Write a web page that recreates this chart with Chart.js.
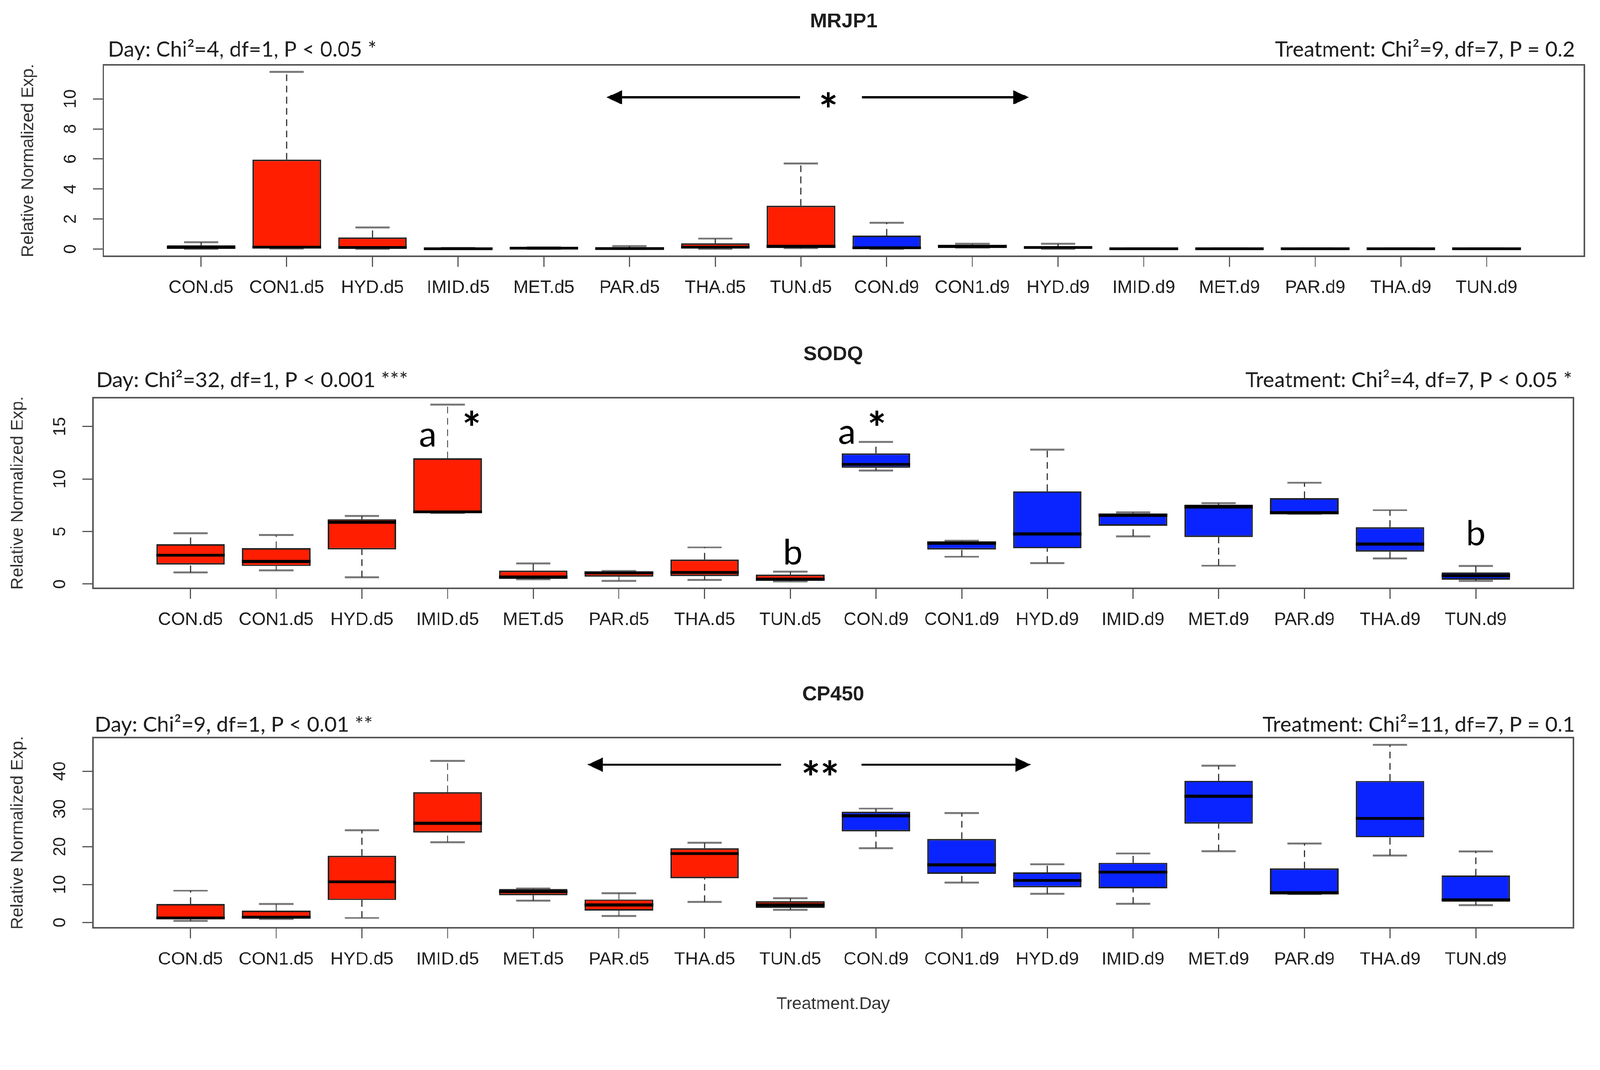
<!DOCTYPE html>
<html>
<head>
<meta charset="utf-8">
<script src="https://cdn.jsdelivr.net/npm/chart.js@4.4.1/dist/chart.umd.min.js"></script>
<style>
  html, body { margin: 0; padding: 0; background: #fff; overflow: hidden; }
  #page { width: 4273px; height: 2739px; position: relative; transform-origin: 0 0; }
  canvas { position: absolute; left: 0; }
</style>
</head>
<body>
<div id="page">
<canvas id="c1" width="4273" height="880" style="top:0px"></canvas>
<canvas id="c2" width="4273" height="900" style="top:880px"></canvas>
<canvas id="c3" width="4273" height="959" style="top:1780px"></canvas>
</div>
<script>
// groups on the x axis
var groups = ['CON.d5', 'CON1.d5', 'HYD.d5', 'IMID.d5', 'MET.d5', 'PAR.d5', 'THA.d5', 'TUN.d5',
              'CON.d9', 'CON1.d9', 'HYD.d9', 'IMID.d9', 'MET.d9', 'PAR.d9', 'THA.d9', 'TUN.d9'];

// MRJP1 box stats
var mrjp1Min = [0, 0.02, 0, 0, 0, 0, 0, 0.05, 0, 0.08, 0, 0, 0, 0, 0, 0];
var mrjp1Q1  = [0.02, 0.05, 0.02, 0, 0.02, 0, 0.03, 0.1, 0.02, 0.12, 0.02, 0, 0, 0, 0, 0];
var mrjp1Med = [0.1, 0.12, 0.1, 0.02, 0.06, 0.03, 0.12, 0.18, 0.08, 0.18, 0.1, 0.02, 0.02, 0.02, 0.02, 0.02];
var mrjp1Q3  = [0.25, 5.95, 0.78, 0.06, 0.1, 0.12, 0.38, 2.88, 0.9, 0.25, 0.2, 0.04, 0.04, 0.04, 0.04, 0.04];
var mrjp1Max = [0.45, 11.8, 1.44, 0.08, 0.12, 0.2, 0.7, 5.7, 1.74, 0.35, 0.35, 0.05, 0.05, 0.05, 0.05, 0.05];
var mrjp1Ticks = [0, 2, 4, 6, 8, 10];

// SODQ
var sodqMin = [1.12, 1.31, 0.64, 6.76, 0.46, 0.31, 0.4, 0.27, 10.81, 2.6, 2.0, 4.55, 1.75, 6.69, 2.43, 0.31];
var sodqQ1  = [1.87, 1.71, 3.29, 6.76, 0.5, 0.69, 0.75, 0.35, 11.06, 3.28, 3.39, 5.55, 4.49, 6.69, 3.08, 0.42];
var sodqMed = [2.74, 2.16, 5.88, 6.88, 0.66, 1.06, 1.1, 0.46, 11.39, 3.89, 4.78, 6.55, 7.34, 6.78, 3.81, 0.79];
var sodqQ3  = [3.8, 3.41, 6.18, 11.97, 1.29, 1.23, 2.33, 0.89, 12.45, 4.07, 8.84, 6.72, 7.55, 8.19, 5.43, 1.12];
var sodqMax = [4.84, 4.68, 6.49, 17.07, 1.98, 1.25, 3.49, 1.19, 13.53, 4.12, 12.79, 6.82, 7.69, 9.65, 7.03, 1.71];
var sodqTicks = [0, 5, 10, 15];

// CP450
var cp450Min = [0.42, 0.9, 1.2, 21.2, 5.74, 1.75, 5.4, 3.3, 19.6, 10.5, 7.55, 4.95, 18.85, 7.5, 17.65, 4.6];
var cp450Q1  = [0.8, 0.97, 5.9, 23.75, 7.2, 3.1, 11.7, 3.9, 24.05, 12.8, 9.3, 9.05, 26.1, 7.5, 22.5, 5.45];
var cp450Med = [1.2, 1.4, 10.75, 26.2, 8.15, 4.65, 18.2, 4.65, 28.2, 15.2, 11.1, 13.3, 33.35, 7.8, 27.5, 6.0];
var cp450Q3  = [4.9, 3.1, 17.6, 34.4, 8.9, 6.1, 19.6, 5.6, 29.25, 22.05, 13.2, 15.8, 37.45, 14.3, 37.4, 12.4];
var cp450Max = [8.4, 4.9, 24.35, 42.7, 9.0, 7.7, 21.1, 6.45, 30.1, 28.9, 15.35, 18.25, 41.4, 20.9, 46.95, 18.8];
var cp450Ticks = [0, 10, 20, 30, 40];

var RED = '#ff1e00', BLUE = '#0a24ff';
var TXT = '#1e1e1e', AXIS = '#555';

// fit the 4273 px layout into whatever viewport we actually get
var fit = window.innerWidth / 4273;
if (Math.abs(fit - 1) > 0.005) document.getElementById('page').style.transform = 'scale(' + fit + ')';

function boxChart(id, p) {
  var lo = Math.min.apply(null, p.min), hi = Math.max.apply(null, p.max);
  var ext = (hi - lo) * 0.04;   // R style axis extension
  var boxes = [], meds = [], upper = [], lower = [], caps = [];
  groups.forEach(function (g, i) {
    var x = i + 1;
    boxes.push({x: x, y: [p.q1[i], p.q3[i]]});
    meds.push({x: x - 0.4, y: p.med[i]}, {x: x + 0.4, y: p.med[i]}, {x: x, y: null});
    upper.push({x: x, y: p.q3[i]}, {x: x, y: p.max[i]}, {x: x, y: null});
    lower.push({x: x, y: p.min[i]}, {x: x, y: p.q1[i]}, {x: x, y: null});
    caps.push({x: x - 0.2, y: p.max[i]}, {x: x + 0.2, y: p.max[i]}, {x: x, y: null},
              {x: x - 0.2, y: p.min[i]}, {x: x + 0.2, y: p.min[i]}, {x: x, y: null});
  });
  var fills = groups.map(function (g) { return g.slice(-2) === 'd5' ? RED : BLUE; });

  var lineDs = function (data, color, width, dash) {
    return {type: 'line', data: data, borderColor: color, borderWidth: width, borderDash: dash || [],
            pointRadius: 0, spanGaps: false, fill: false, borderCapStyle: 'butt'};
  };

  var decor = {
    id: 'decor',
    afterDraw: function (chart) {
      var ctx = chart.ctx, a = chart.chartArea, xs = chart.scales.x, ys = chart.scales.y;
      ctx.save();
      ctx.strokeStyle = AXIS; ctx.lineWidth = 4;
      ctx.strokeRect(a.left, a.top, a.right - a.left, a.bottom - a.top);

      ctx.fillStyle = TXT;
      ctx.textAlign = 'center'; ctx.textBaseline = 'middle';
      // rotated y tick labels
      ctx.font = '46px "Liberation Sans"';
      p.ticks.forEach(function (v) {
        ctx.save();
        ctx.translate(a.left - 87, ys.getPixelForValue(v));
        ctx.rotate(-Math.PI / 2);
        ctx.fillText(String(v), 0, 0);
        ctx.restore();
      });
      // y title
      ctx.save();
      ctx.translate(a.left - 200, (a.top + a.bottom) / 2);
      ctx.rotate(-Math.PI / 2);
      ctx.font = '46px "Liberation Sans"';
      ctx.fillStyle = '#333';
      ctx.fillText('Relative Normalized Exp.', 0, 0);
      ctx.restore();
      // gene name
      ctx.font = 'bold 54px "Liberation Sans"';
      ctx.fillText(p.name, (a.left + a.right) / 2, a.top - 115);
      // stats lines
      ctx.font = '57px Lato';
      ctx.textAlign = 'left';
      ctx.fillText(p.dayText, a.left + p.statLeft, a.top - p.statGap);
      ctx.textAlign = 'right';
      ctx.fillText(p.treatText, a.right + p.statRight, a.top - p.statGap);
      // x title (bottom panel only)
      if (p.xTitle) {
        ctx.textAlign = 'center';
        ctx.font = '46px "Liberation Sans"';
        ctx.fillStyle = '#333';
        ctx.fillText(p.xTitle, (a.left + a.right) / 2, a.bottom + 204);
      }
      // arrows
      ctx.strokeStyle = '#000'; ctx.fillStyle = '#000'; ctx.lineWidth = 6;
      (p.arrows || []).forEach(function (ar) {
        var x0 = xs.getPixelForValue(ar.from), x1 = xs.getPixelForValue(ar.to), y = ys.getPixelForValue(ar.y);
        var dir = x1 > x0 ? 1 : -1, head = 42;
        ctx.beginPath(); ctx.moveTo(x0, y); ctx.lineTo(x1 - dir * head, y); ctx.stroke();
        ctx.beginPath(); ctx.moveTo(x1, y); ctx.lineTo(x1 - dir * head, y - 19); ctx.lineTo(x1 - dir * head, y + 19);
        ctx.closePath(); ctx.fill();
      });
      // letters and stars, centred on their glyph box
      ctx.textAlign = 'center'; ctx.textBaseline = 'alphabetic';
      (p.marks || []).forEach(function (m) {
        ctx.font = (m.t.indexOf('*') >= 0 ? 'bold 120px Lato' : '94px Lato');
        var mt = ctx.measureText(m.t);
        var cy = ys.getPixelForValue(m.y);
        ctx.fillText(m.t, xs.getPixelForValue(m.x), cy + (mt.actualBoundingBoxAscent - mt.actualBoundingBoxDescent) / 2);
      });
      ctx.restore();
    }
  };

  return new Chart(document.getElementById(id), {
    type: 'bar',
    data: {
      datasets: [
        lineDs(meds, '#000', 8),
        {type: 'bar', data: boxes, backgroundColor: fills, borderColor: '#222', borderWidth: 4,
         borderSkipped: false, barPercentage: 0.8, categoryPercentage: 1.0},
        lineDs(upper, '#333', 3, [18, 12]),
        lineDs(lower, '#333', 3, [18, 12]),
        lineDs(caps, '#777', 5)
      ]
    },
    options: {
      responsive: false,
      devicePixelRatio: 1,
      animation: false,
      layout: {padding: p.pad},
      plugins: {legend: {display: false}, tooltip: {enabled: false}, title: {display: false}},
      scales: {
        x: {
          type: 'linear', min: -0.14, max: 17.14, offset: false,
          afterBuildTicks: function (s) { s.ticks = groups.map(function (g, i) { return {value: i + 1}; }); },
          afterFit: function (s) { s.height = 150; },
          grid: {drawOnChartArea: false, drawTicks: true, tickLength: 28, color: AXIS, lineWidth: 3, offset: false},
          border: {display: false},
          ticks: {autoSkip: false, maxRotation: 0, minRotation: 0, padding: 28, color: TXT,
                  font: {family: 'Liberation Sans', size: 48},
                  callback: function (v) { return groups[v - 1]; }}
        },
        y: {
          type: 'linear', min: lo - ext, max: hi + ext,
          afterBuildTicks: function (s) { s.ticks = p.ticks.map(function (v) { return {value: v}; }); },
          afterFit: function (s) { s.width = 170; },
          grid: {drawOnChartArea: false, drawTicks: true, tickLength: 28, color: AXIS, lineWidth: 3},
          border: {display: false},
          ticks: {display: false}
        }
      }
    },
    plugins: [decor]
  });
}

boxChart('c1', {
  name: 'MRJP1', min: mrjp1Min, q1: mrjp1Q1, med: mrjp1Med, q3: mrjp1Q3, max: mrjp1Max, ticks: mrjp1Ticks,
  dayText: 'Day: Chi\u00b2=4, df=1, P < 0.05 *', treatText: 'Treatment: Chi\u00b2=9, df=7, P = 0.2',
  pad: {top: 173, left: 106, right: 42, bottom: 46}, statGap: 40, statLeft: 12, statRight: -25,
  arrows: [{from: 7.99, to: 5.73, y: 10.1}, {from: 8.71, to: 10.66, y: 10.1}],
  marks: [{t: '*', x: 8.32, y: 9.95}]
});

boxChart('c2', {
  name: 'SODQ', min: sodqMin, q1: sodqQ1, med: sodqMed, q3: sodqQ3, max: sodqMax, ticks: sodqTicks,
  dayText: 'Day: Chi\u00b2=32, df=1, P < 0.001 ***', treatText: 'Treatment: Chi\u00b2=4, df=7, P < 0.05 *',
  pad: {top: 182, left: 78, right: 71, bottom: 59}, statGap: 46, statLeft: 9, statRight: -3,
  marks: [{t: 'a', x: 3.77, y: 13.95}, {t: '*', x: 4.28, y: 15.8}, {t: 'b', x: 8.03, y: 3.06},
          {t: 'a', x: 8.66, y: 14.2}, {t: '*', x: 9.01, y: 15.8}, {t: 'b', x: 16.0, y: 4.9}]
});

boxChart('c3', {
  name: 'CP450', min: cp450Min, q1: cp450Q1, med: cp450Med, q3: cp450Q3, max: cp450Max, ticks: cp450Ticks,
  dayText: 'Day: Chi\u00b2=9, df=1, P < 0.01 **', treatText: 'Treatment: Chi\u00b2=11, df=7, P = 0.1',
  pad: {top: 190, left: 78, right: 71, bottom: 111}, statGap: 34, statLeft: 5, statRight: 4,
  xTitle: 'Treatment.Day',
  arrows: [{from: 7.89, to: 5.63, y: 41.7}, {from: 8.83, to: 10.81, y: 41.7}],
  marks: [{t: '**', x: 8.35, y: 40.9}]
});
</script>
</body>
</html>
